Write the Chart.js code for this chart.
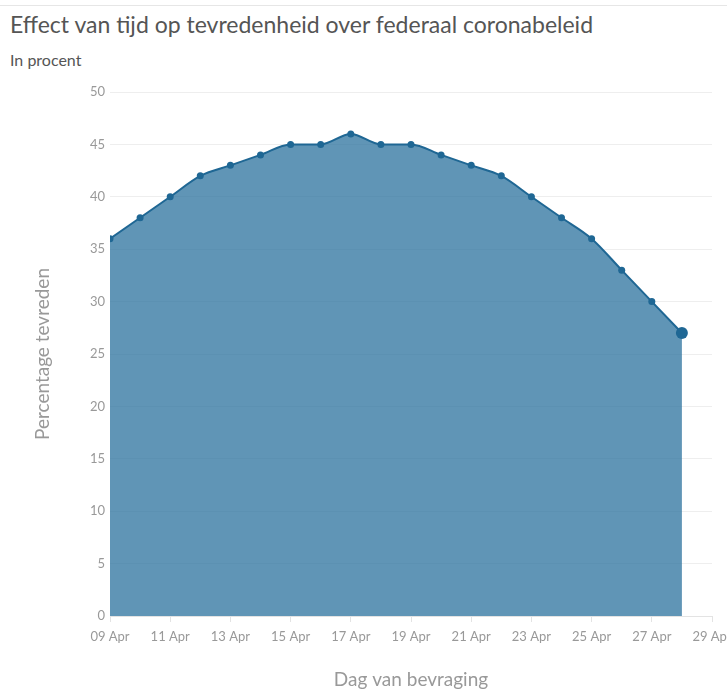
<!DOCTYPE html>
<html>
<head>
<meta charset="utf-8">
<script src="https://cdn.jsdelivr.net/npm/chart.js@4"></script>
<style>
  html, body { margin:0; padding:0; background:#fff; }
  body { width:727px; height:691px; position:relative; overflow:hidden; font-family: Lato, "Open Sans", sans-serif; }
  #topline { position:absolute; left:0; top:5px; width:727px; height:1px; background:#e6e6e6; }
  #title { position:absolute; left:10px; top:10px; font-size:23px; color:#555; white-space:nowrap; }
  #subtitle { position:absolute; left:10px; top:50px; font-size:16px; color:#555; }
  #wrap { position:absolute; left:0; top:0; width:727px; height:691px; }
</style>
</head>
<body>
<div id="topline"></div>
<div id="title">Effect van tijd op tevredenheid over federaal coronabeleid</div>
<div id="subtitle">In procent</div>
<div id="wrap"><canvas id="chart" width="727" height="691"></canvas></div>
<script>
// dagen sinds 09 Apr
const days = [0,1,2,3,4,5,6,7,8,9,10,11,12,13,14,15,16,17,18,19];
const tevreden = [36,38,40,42,43,44,45,45,46,45,45,44,43,42,40,38,36,33,30,27];
const tickLabels = ['09 Apr','11 Apr','13 Apr','15 Apr','17 Apr','19 Apr','21 Apr','23 Apr','25 Apr','27 Apr','29 Apr'];

const pts = days.map((d,i)=>({x:d, y:tevreden[i]}));
const radii = pts.map((p,i)=> i===pts.length-1 ? 6 : 3.5);

const ctx = document.getElementById('chart').getContext('2d');
new Chart(ctx, {
  type: 'line',
  data: { datasets: [{
    data: pts,
    borderColor: '#1f6794',
    backgroundColor: 'rgba(40,112,156,0.74)',
    borderWidth: 2,
    fill: 'origin',
    cubicInterpolationMode: 'monotone',
    pointRadius: radii,
    pointBackgroundColor: '#1f6794',
    pointBorderWidth: 0
  }]},
  options: {
    responsive: false,
    animation: false,
    layout: { padding: { top: 92, right: 15, left: 0, bottom: 0 } },
    plugins: { legend: { display: false }, tooltip: { enabled: false } },
    scales: {
      x: {
        type: 'linear', min: 0, max: 20,
        afterFit: s => { s.height = 75; s.paddingRight = 0; s.paddingLeft = 0; },
        afterBuildTicks: s => { s.ticks = tickLabels.map((t,i)=>({value:i*2})); },
        ticks: {
          autoSkip: false, maxRotation: 0, padding: 7,
          color: '#999', font: { family: 'Lato', size: 13 },
          callback: (v) => tickLabels[v/2]
        },
        grid: { drawOnChartArea: false, drawTicks: true, tickLength: 6, color: '#e3e3e3' },
        border: { color: '#e3e3e3' },
        title: { display: true, text: 'Dag van bevraging', color: '#999',
                 font: { family: 'Lato', size: 19 }, padding: { top: 0, bottom: 0 } }
      },
      y: {
        min: 0, max: 50,
        afterFit: s => { s.width = 110; s.paddingTop = 0; s.paddingBottom = 0; },
        ticks: { stepSize: 5, padding: 5, color: '#999', font: { family: 'Lato', size: 13 } },
        grid: { color: '#eeeeee', drawTicks: false },
        border: { display: false },
        title: { display: true, text: 'Percentage tevreden', color: '#999',
                 font: { family: 'Lato', size: 19 }, padding: { top: 31, bottom: 0 } }
      }
    }
  }
});
</script>
</body>
</html>
